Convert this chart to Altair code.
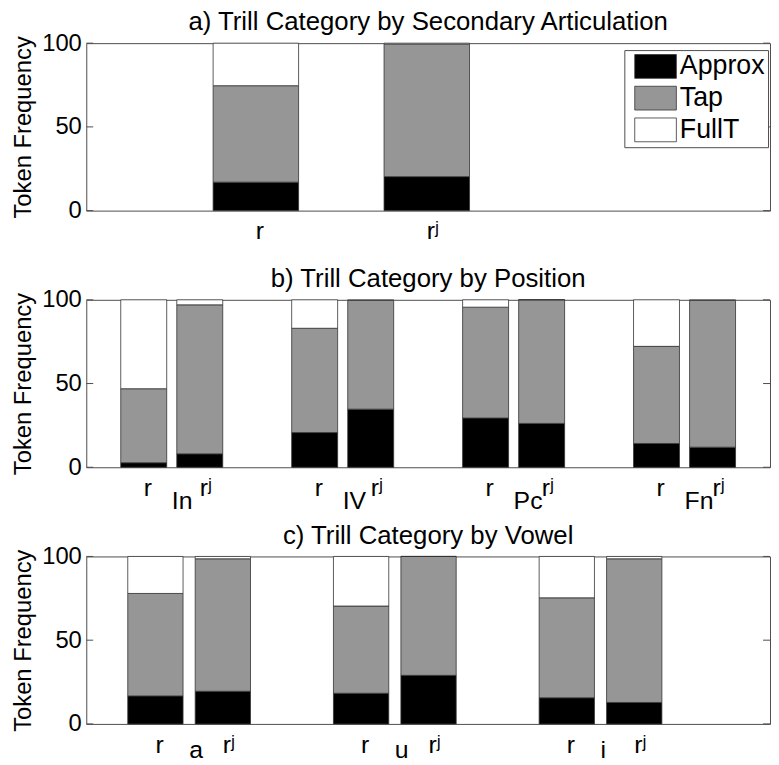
import altair as alt
import pandas as pd

FONT = "Liberation Sans, Arial, Helvetica, sans-serif"
BORDER = "#4d4d4d"

categories = ["Approx", "Tap", "FullT"]
cat_colors = ["#000000", "#969696", "#ffffff"]
yticks = [0, 50, 100]

# a) by secondary articulation
a_labels = ["r", "rʲ"]
a_approx = [17.0, 20.3]
a_tap = [57.6, 79.1]
a_fullt = [25.4, 0.6]

# b) by position
b_groups = ["In", "IV", "Pc", "Fn"]
b_subs = ["r", "rʲ"]
b_approx = [[2.7, 8.0], [20.7, 34.7], [29.4, 26.2], [14.2, 12.0]]
b_tap = [[44.2, 89.0], [62.3, 64.9], [66.2, 73.8], [58.0, 87.6]]
b_fullt = [[53.1, 3.0], [17.0, 0.4], [4.4, 0.0], [27.8, 0.4]]

# c) by vowel
c_groups = ["a", "u", "i"]
c_subs = ["r", "rʲ"]
c_approx = [[16.7, 19.5], [18.3, 29.0], [15.6, 12.8]]
c_tap = [[61.2, 79.1], [52.1, 71.0], [59.7, 85.8]]
c_fullt = [[22.1, 1.4], [29.6, 0.0], [24.7, 1.4]]

W, H = 690, 169


def long_simple(labels, approx, tap, fullt):
    rows = []
    for i, lab in enumerate(labels):
        for k, (cat, vals) in enumerate(zip(categories, [approx, tap, fullt])):
            rows.append({"cat": lab, "category": cat, "value": vals[i], "ord": k})
    return pd.DataFrame(rows)


def long_grouped(groups, subs, approx, tap, fullt):
    rows = []
    for g, grp in enumerate(groups):
        for s, sub in enumerate(subs):
            for k, (cat, vals) in enumerate(zip(categories, [approx, tap, fullt])):
                rows.append({"group": grp, "sub": sub, "category": cat,
                             "value": vals[g][s], "ord": k})
    return pd.DataFrame(rows)


yaxis = alt.Axis(values=yticks, ticks=False, domain=False, grid=False,
                 labelFontSize=24, labelFont=FONT, labelColor="black", labelPadding=5,
                 title="Token Frequency", titleFontSize=24, titleFont=FONT,
                 titleFontWeight="normal", titleColor="black", titlePadding=6)
yscale = alt.Scale(domain=[0, 100], nice=False, zero=True)

ticks_df = pd.DataFrame({"v": yticks})


def tick_layers():
    left = alt.Chart(ticks_df).mark_rule(color=BORDER, strokeWidth=1).encode(
        y=alt.Y("v:Q", scale=yscale, axis=yaxis), x=alt.value(0), x2=alt.value(7))
    right = alt.Chart(ticks_df).mark_rule(color=BORDER, strokeWidth=1).encode(
        y=alt.Y("v:Q", scale=yscale, axis=yaxis), x=alt.value(W - 7), x2=alt.value(W))
    return [left, right]


def title(t):
    return alt.TitleParams(text=t, fontSize=26, font=FONT, fontWeight="normal",
                           color="black", offset=-4, anchor="middle")


# ---------- panel a ----------
df_a = long_simple(a_labels, a_approx, a_tap, a_fullt)
xa = alt.X("cat:N", sort=a_labels, axis=None,
           scale=alt.Scale(domain=a_labels, paddingInner=0.5, paddingOuter=0,
                           range=[128, 386.75]))
legend_a = alt.Legend(title=None, orient="none", legendX=543, legendY=7, direction="vertical",
                      symbolType="M-0.5,-1H3V1H-0.5Z", symbolSize=576,
                      symbolStrokeColor="#333333", symbolStrokeWidth=0.8, symbolOpacity=1,
                      labelFontSize=27, labelFont=FONT, labelColor="black", labelOffset=26,
                      rowPadding=3, padding=3, strokeColor=BORDER, fillColor="white")
bars_a = alt.Chart(df_a).mark_bar(stroke="#333333", strokeWidth=0.8, opacity=1).encode(
    x=xa,
    y=alt.Y("value:Q", stack="zero", scale=yscale, axis=yaxis),
    color=alt.Color("category:N", sort=categories,
                    scale=alt.Scale(domain=categories, range=cat_colors), legend=legend_a),
    order=alt.Order("ord:Q"),
)
lab_a = alt.Chart(pd.DataFrame({"cat": a_labels})).mark_text(
    fontSize=25, font=FONT, align="left", baseline="alphabetic", color="black").encode(
    x=xa, y=alt.value(H + 29), text="cat:N")
panel_a = alt.layer(bars_a, lab_a, *tick_layers()).properties(
    width=W, height=H, title=title("a) Trill Category by Secondary Articulation"))


def grouped_panel(groups, subs, approx, tap, fullt, xscale, group_y, ttl):
    df = long_grouped(groups, subs, approx, tap, fullt)
    x = alt.X("group:N", sort=groups, axis=None, scale=xscale)
    xo = alt.XOffset("sub:N", sort=subs,
                     scale=alt.Scale(domain=subs, paddingInner=0.18, paddingOuter=0.615))
    bars = alt.Chart(df).mark_bar(stroke="#333333", strokeWidth=0.8, opacity=1).encode(
        x=x, xOffset=xo,
        y=alt.Y("value:Q", stack="zero", scale=yscale, axis=yaxis),
        color=alt.Color("category:N", sort=categories,
                        scale=alt.Scale(domain=categories, range=cat_colors), legend=None),
        order=alt.Order("ord:Q"),
    )
    sub_df = pd.DataFrame([{"group": g, "sub": s} for g in groups for s in subs])
    sub_labels = alt.Chart(sub_df).mark_text(
        fontSize=25, font=FONT, align="left", baseline="alphabetic", color="black").encode(
        x=x, xOffset=xo, y=alt.value(H + 29), text="sub:N")
    grp_labels = alt.Chart(pd.DataFrame({"group": groups})).mark_text(
        fontSize=25, font=FONT, align="left", baseline="alphabetic", color="black").encode(
        x=x, y=alt.value(H + group_y), text="group:N")
    return alt.layer(bars, sub_labels, grp_labels, *tick_layers()).properties(
        width=W, height=H, title=title(ttl))


panel_b = grouped_panel(b_groups, b_subs, b_approx, b_tap, b_fullt,
                        alt.Scale(domain=b_groups, paddingInner=0, paddingOuter=0),
                        42, "b) Trill Category by Position")
panel_c = grouped_panel(c_groups, c_subs, c_approx, c_tap, c_fullt,
                        alt.Scale(domain=c_groups, paddingInner=0, paddingOuter=0.162, align=0),
                        34, "c) Trill Category by Vowel")

chart = alt.vconcat(panel_a, panel_b, panel_c, spacing=90, bounds="flush").resolve_scale(
    x="independent", xOffset="independent", color="independent"
).properties(
    padding={"left": 3, "top": -3, "right": 0, "bottom": 0},
    background="white",
).configure_view(stroke=BORDER, strokeWidth=1)

chart.save("out.html", embed_options={"renderer": "svg", "actions": False})
